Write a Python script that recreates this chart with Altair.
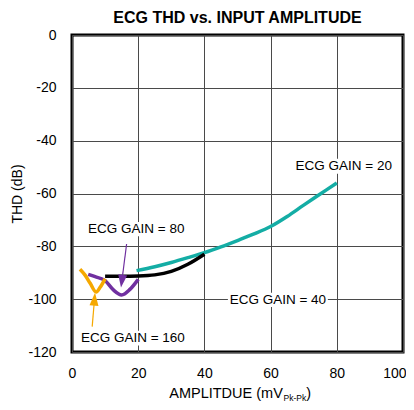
import altair as alt
import pandas as pd

FONT = "Liberation Sans"

# ---- data ----
gain20_x = [19.5, 25, 30, 35, 40, 45, 50, 55, 60, 65, 70, 75, 80]
gain20_y = [-89.2, -87.7, -86.1, -84.3, -82.4, -80.2, -77.8, -75.3, -72.5, -68.7, -64.4, -60.2, -56.0]

gain40_x = [10, 15, 20, 25, 30, 35, 40]
gain40_y = [-91.3, -91.3, -91.2, -90.8, -89.5, -86.8, -83.0]

gain80_x = [4.9, 7.0, 10.0, 12.5, 15.0, 17.5, 20.0]
gain80_y = [-90.6, -91.5, -93.0, -96.5, -98.4, -96.3, -92.5]

gain160_x = [2.4, 4.0, 5.5, 7.3, 8.5, 10.0]
gain160_y = [-88.7, -91.0, -94.0, -97.3, -95.5, -92.3]

series_names = ["ECG GAIN = 20", "ECG GAIN = 40", "ECG GAIN = 80", "ECG GAIN = 160"]
series_colors = ["#14ada5", "#000000", "#7030a0", "#f5a800"]

x_ticks = [0, 20, 40, 60, 80, 100]
y_ticks = [0, -20, -40, -60, -80, -100, -120]

# annotation labels (data coords of text centre)
label_text = ["ECG GAIN = 20", "ECG GAIN = 80", "ECG GAIN = 40", "ECG GAIN = 160"]
label_x = [82.1, 19.4, 62.2, 18.4]
label_y = [-49.6, -73.5, -100.3, -114.8]
# white boxes behind labels
box_x = [66.8, 4.2, 47.1, 2.5]
box_x2 = [97.0, 34.7, 77.3, 34.7]
box_y = [-46.8, -70.8, -97.6, -112.0]
box_y2 = [-52.5, -76.2, -103.0, -117.5]

# arrows: start point and head centre
arrow_color = ["#7030a0", "#f5a800"]
arrow_x = [16.5, 6.1]
arrow_y = [-79.1, -110.4]
arrow_x2 = [15.05, 6.8]
arrow_y2 = [-93.2, -100.0]
arrow_angle = [7.5, 184.6]

# ---- build tables ----
rows = []
for name, xs, ys in zip(series_names,
                        [gain20_x, gain40_x, gain80_x, gain160_x],
                        [gain20_y, gain40_y, gain80_y, gain160_y]):
    for i, (a, b) in enumerate(zip(xs, ys)):
        rows.append({"series": name, "amp": a, "thd": b, "order": i})
df = pd.DataFrame(rows)

labels_df = pd.DataFrame({"text": label_text, "x": label_x, "y": label_y,
                          "bx": box_x, "bx2": box_x2, "by": box_y, "by2": box_y2})
arrows_df = pd.DataFrame({"color": arrow_color, "x": arrow_x, "y": arrow_y,
                          "x2": arrow_x2, "y2": arrow_y2, "angle": arrow_angle})

xscale = alt.Scale(domain=[0, 100], nice=False, zero=False)
yscale = alt.Scale(domain=[-120, 0], nice=False, zero=False)

xaxis = alt.Axis(values=x_ticks, grid=True, gridColor="#4a4a4a", gridWidth=1,
                 ticks=False, domain=False, labelFont=FONT, labelFontSize=14,
                 labelColor="black", labelPadding=14, labelFlush=False,
                 labelAlign={"condition": {"test": "datum.value == 100", "value": "right"},
                             "value": "center"},
                 labelOffset={"condition": {"test": "datum.value == 100", "value": 3},
                              "value": 0},
                 title=None)
yaxis = alt.Axis(values=y_ticks, grid=True, gridColor="#4a4a4a", gridWidth=1,
                 ticks=False, domain=False, labelFont=FONT, labelFontSize=14,
                 labelColor="black", labelPadding=16, labelExpr="datum.value + ''",
                 labelFlush=False,
                 title="THD (dB)", titleFont=FONT, titleFontSize=14,
                 titleFontWeight="normal", titleColor="black", titleAngle=270,
                 titleX=-55, titleY=158.5, titleAlign="center", titleBaseline="middle")

base_x = alt.X("amp:Q", scale=xscale, axis=xaxis)
base_y = alt.Y("thd:Q", scale=yscale, axis=yaxis)

lines = alt.Chart(df).mark_line(strokeWidth=3.5, interpolate="monotone", clip=False).encode(
    x=base_x, y=base_y,
    color=alt.Color("series:N", scale=alt.Scale(domain=series_names, range=series_colors), legend=None),
    detail="series:N",
    order="order:Q",
)

boxes = alt.Chart(labels_df).mark_rect(color="white").encode(
    x=alt.X("bx:Q", scale=xscale), x2="bx2:Q",
    y=alt.Y("by:Q", scale=yscale), y2="by2:Q",
)

texts = alt.Chart(labels_df).mark_text(font=FONT, fontSize=13.5, color="black",
                                       align="center", baseline="middle").encode(
    x=alt.X("x:Q", scale=xscale), y=alt.Y("y:Q", scale=yscale), text="text:N")

arrow_lines = alt.Chart(arrows_df).mark_rule(strokeWidth=1.2).encode(
    x=alt.X("x:Q", scale=xscale), y=alt.Y("y:Q", scale=yscale),
    x2="x2:Q", y2="y2:Q",
    color=alt.Color("color:N", scale=None),
)

arrow_heads = alt.Chart(arrows_df).mark_point(
    shape="M-0.35,-0.5 L0.35,-0.5 L0,0.5 Z", filled=True, size=660, opacity=1, strokeWidth=0
).encode(
    x=alt.X("x2:Q", scale=xscale), y=alt.Y("y2:Q", scale=yscale),
    angle=alt.Angle("angle:Q", scale=None),
    color=alt.Color("color:N", scale=None),
)

# x axis title with subscript
xt_df = pd.DataFrame({"t": ["AMPLITDUE  (mV"], "x": [63.7], "y": [-137.6]})
xs_df = pd.DataFrame({"t": ["Pk-Pk"], "x": [63.9], "y": [-138.6]})
xp_df = pd.DataFrame({"t": [")"], "x": [70.8], "y": [-137.6]})
xt = alt.Chart(xt_df).mark_text(font=FONT, fontSize=14.5, align="right", baseline="alphabetic",
                                color="black", clip=False).encode(
    x=alt.X("x:Q", scale=xscale), y=alt.Y("y:Q", scale=yscale), text="t:N")
xs = alt.Chart(xs_df).mark_text(font=FONT, fontSize=8.5, align="left", baseline="alphabetic",
                                color="black", clip=False).encode(
    x=alt.X("x:Q", scale=xscale), y=alt.Y("y:Q", scale=yscale), text="t:N")
xp = alt.Chart(xp_df).mark_text(font=FONT, fontSize=14.5, align="left", baseline="alphabetic",
                                color="black", clip=False).encode(
    x=alt.X("x:Q", scale=xscale), y=alt.Y("y:Q", scale=yscale), text="t:N")

chart = alt.layer(lines, boxes, texts, arrow_lines, arrow_heads, xt, xs, xp).properties(
    width=331, height=317,
    title=alt.TitleParams("ECG THD vs. INPUT AMPLITUDE", font=FONT, fontSize=16,
                          fontWeight="bold", color="black", anchor="middle", offset=2),
    autosize=alt.AutoSizeParams(type="none"),
    padding={"left": 64, "top": 27, "right": 3, "bottom": 50},
).configure_view(stroke="black", strokeWidth=3).resolve_scale(color="independent")

chart.save("out.html", embed_options={"renderer": "svg", "actions": False})
